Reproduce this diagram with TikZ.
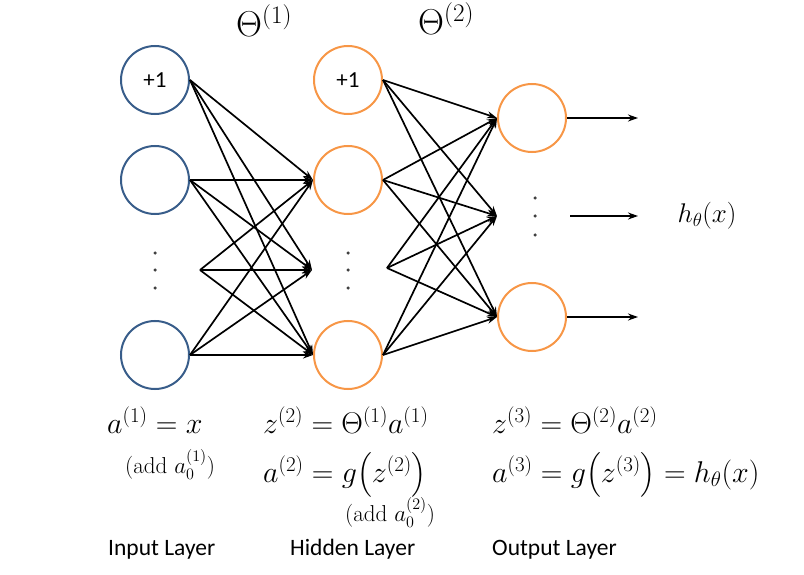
\documentclass[tikz,border=0pt]{standalone}
\usepackage{fix-cm}
\usepackage{amsmath}
\usepackage{fontspec}
\newfontfamily\calibri{Carlito}
\usetikzlibrary{arrows.meta}
\definecolor{inblue}{HTML}{385D8A}
\definecolor{hidorange}{HTML}{F79646}

\begin{document}
\begin{tikzpicture}[x=1pt, y=-1pt,
    inneuron/.style={circle, draw=inblue, line width=2pt, minimum size=68pt, inner sep=0pt, font=\calibri\fontsize{23}{26}\selectfont},
    hidneuron/.style={inneuron, draw=hidorange},
    arrow/.style={-{Stealth[length=10pt, width=7pt]}, line width=1.7pt},
    vdot/.style={circle, fill=black!75, inner sep=0pt, minimum size=3.5pt},
    eqn/.style={anchor=base west, inner sep=0pt, font=\fontsize{30}{34}\selectfont},
    note/.style={anchor=base west, inner sep=0pt, font=\fontsize{23}{26}\selectfont},
    layer/.style={anchor=base west, inner sep=0pt, font=\calibri\fontsize{23.5}{26}\selectfont}
]
    \useasboundingbox (0,0) rectangle (804,575);

    % Input layer
    \node[inneuron] (in1) at (155,80) {+1};
    \node[inneuron] (in2) at (155,180) {};
    \node[inneuron] (in3) at (155,355) {};
    \foreach \y [count=\i] in {253,270,288} \node[vdot] (indot\i) at (155,\y) {};
    \coordinate (inmid) at (200,270);

    % Hidden layer
    \node[hidneuron] (hid1) at (348,80) {+1};
    \node[hidneuron] (hid2) at (348,180) {};
    \node[hidneuron] (hid3) at (348,355) {};
    \foreach \y [count=\i] in {253,270,288} \node[vdot] (hiddot\i) at (348,\y) {};
    \coordinate (hidmidin) at (312,270);
    \coordinate (hidmidout) at (387,268);

    % Output layer
    \node[hidneuron] (out1) at (532,118) {};
    \node[hidneuron] (out2) at (532,317) {};
    \foreach \y [count=\i] in {198,216,235} \node[vdot] (outdot\i) at (535,\y) {};
    \coordinate (outmidin) at (497,216);
    \coordinate (outmidout) at (570,216);

    % Output ends and hypothesis
    \coordinate (y1) at (638,118);
    \coordinate (y2) at (638,216);
    \coordinate (y3) at (638,317);
    \node[anchor=west, font=\fontsize{27}{30}\selectfont] (hyp) at (674,216) {$h_\theta(x)$};

    % Weights
    \foreach \s in {in1.east, in2.east, inmid, in3.east}
        \foreach \t in {hid2.west, hidmidin, hid3.west}
            \draw[arrow] (\s) -- (\t);
    \foreach \s in {hid1.east, hid2.east, hidmidout, hid3.east}
        \foreach \t in {out1.west, outmidin, out2.west}
            \draw[arrow] (\s) -- (\t);

    \draw[arrow] (out1.east) -- (y1);
    \draw[arrow] (outmidout) -- (y2);
    \draw[arrow] (out2.east) -- (y3);

    % Parameter labels
    \node[eqn, font=\fontsize{36}{40}\selectfont] (theta1) at (236,37) {$\Theta^{(1)}$};
    \node[eqn, font=\fontsize{36}{40}\selectfont] (theta2) at (418,35) {$\Theta^{(2)}$};

    % Forward propagation
    \node[eqn] (a1) at (107,433) {$a^{(1)} = x$};
    \node[note] (add1) at (125,473) {(add $a_0^{(1)}$)};
    \node[eqn] (z2) at (263,433) {$z^{(2)} = \Theta^{(1)}a^{(1)}$};
    \node[eqn] (a2) at (263,482) {$a^{(2)} = g\bigl(z^{(2)}\bigr)$};
    \node[note] (add2) at (345,521) {(add $a_0^{(2)}$)};
    \node[eqn] (z3) at (492,433) {$z^{(3)} = \Theta^{(2)}a^{(2)}$};
    \node[eqn] (a3) at (492,482) {$a^{(3)} = g\bigl(z^{(3)}\bigr) = h_\theta(x)$};

    % Layer names
    \node[layer] (inname) at (108,555) {Input Layer};
    \node[layer] (hidname) at (290,555) {Hidden Layer};
    \node[layer] (outname) at (492,555) {Output Layer};
\end{tikzpicture}
\end{document}
